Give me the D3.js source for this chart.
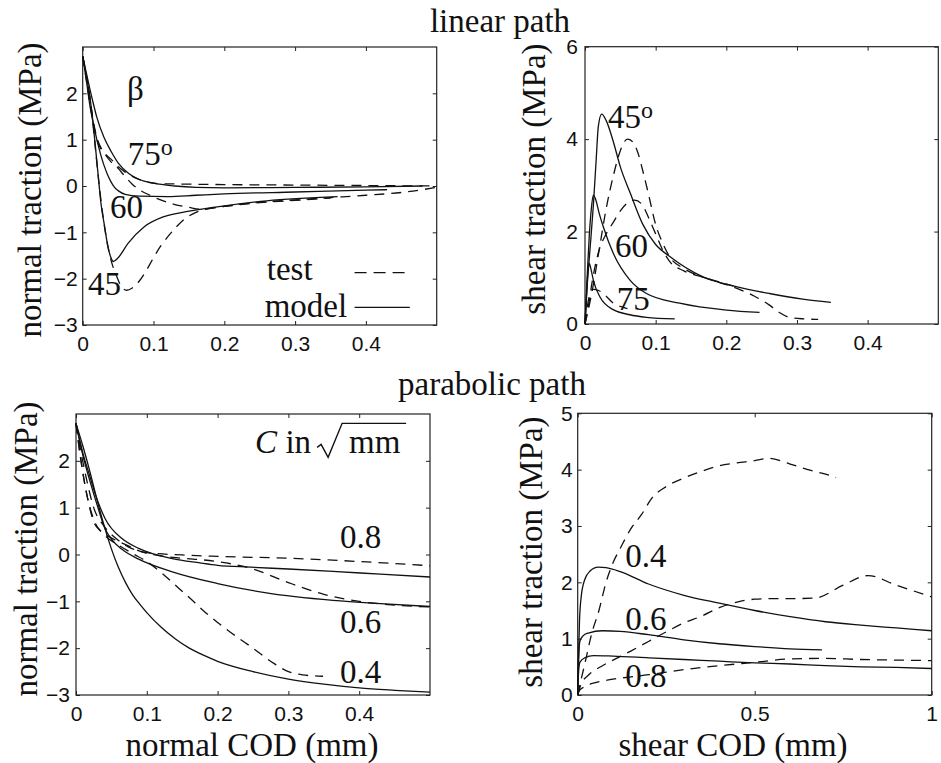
<!DOCTYPE html>
<html>
<head>
<meta charset="utf-8">
<script src="https://cdn.jsdelivr.net/npm/d3@7"></script>
<style>
  body { margin: 0; background: #fff; }
  svg text { fill: #111; }
  .serif { font-family: "Liberation Serif", "Times New Roman", serif; font-size: 33px; }
  .tick text { font-family: "Liberation Sans", Arial, sans-serif; font-size: 21px; fill: #111; }
  .tick line { stroke: #222; }
</style>
</head>
<body>
<svg id="chart" width="941" height="763"></svg>
<script>

// ---- linear path, normal traction vs normal COD (beta = 75, 60, 45) ----
var linN75Model = [[0,2.8],[0.005,2.45],[0.01,2.1],[0.015,1.78],[0.02,1.48],[0.03,1.05],[0.04,0.75],[0.05,0.5],[0.065,0.27],[0.08,0.14],[0.1,0.06],[0.13,0.0],[0.16,-0.03],[0.2,-0.04],[0.3,-0.03],[0.4,-0.02],[0.48,0.0]];
var linN75Test  = [[0,2.8],[0.005,2.3],[0.01,1.8],[0.015,1.35],[0.02,1.0],[0.025,0.82],[0.03,0.72],[0.04,0.58],[0.05,0.42],[0.06,0.3],[0.075,0.17],[0.09,0.09],[0.11,0.05],[0.15,0.04],[0.2,0.03],[0.3,0.02],[0.4,0.01],[0.5,0.0]];
var linN60Model = [[0,2.8],[0.005,2.3],[0.01,1.75],[0.015,1.35],[0.02,1.0],[0.025,0.7],[0.03,0.45],[0.035,0.25],[0.04,0.09],[0.045,-0.03],[0.05,-0.1],[0.06,-0.18],[0.08,-0.22],[0.12,-0.23],[0.16,-0.2],[0.2,-0.17],[0.3,-0.13],[0.4,-0.09],[0.43,-0.08]];
var linN60Test  = [[0,2.8],[0.005,2.4],[0.01,1.9],[0.015,1.4],[0.02,1.05],[0.025,0.85],[0.03,0.72],[0.04,0.52],[0.05,0.38],[0.06,0.2],[0.07,0.04],[0.08,-0.08],[0.095,-0.2],[0.11,-0.3],[0.13,-0.4],[0.15,-0.46],[0.165,-0.5],[0.2,-0.44],[0.25,-0.36],[0.3,-0.31],[0.35,-0.26]];
var linN45Model = [[0,2.8],[0.006,2.3],[0.012,1.71],[0.017,1.0],[0.0216,0.27],[0.026,-0.4],[0.031,-0.88],[0.0356,-1.31],[0.04,-1.55],[0.043,-1.63],[0.05,-1.55],[0.064,-1.24],[0.087,-0.88],[0.115,-0.66],[0.148,-0.55],[0.19,-0.45],[0.26,-0.32],[0.36,-0.23]];
var linN45Test  = [[0,2.8],[0.006,2.3],[0.012,1.7],[0.017,0.95],[0.022,0.2],[0.031,-0.9],[0.04,-1.6],[0.048,-1.95],[0.055,-2.18],[0.062,-2.25],[0.07,-2.2],[0.08,-2.05],[0.09,-1.82],[0.1,-1.55],[0.11,-1.3],[0.12,-1.1],[0.13,-0.92],[0.145,-0.7],[0.16,-0.57],[0.175,-0.5],[0.2,-0.44],[0.25,-0.35],[0.3,-0.3],[0.35,-0.25],[0.4,-0.2],[0.45,-0.14],[0.5,-0.03]];

// ---- linear path, shear traction vs shear COD ----
var linS45Model = [[0,0],[0.003,0.8],[0.007,1.6],[0.0117,2.54],[0.016,3.6],[0.0188,4.27],[0.0236,4.54],[0.03,4.4],[0.04,3.95],[0.05,3.4],[0.0636,2.85],[0.082,2.15],[0.1,1.72],[0.12,1.46],[0.167,1.02],[0.214,0.81],[0.261,0.66],[0.308,0.54],[0.348,0.47]];
var linS45Test  = [[0,0],[0.01,0.7],[0.02,1.6],[0.03,2.5],[0.04,3.2],[0.05,3.75],[0.06,4.0],[0.067,3.95],[0.075,3.7],[0.082,3.3],[0.09,2.8],[0.1,2.15],[0.11,1.75],[0.12,1.45],[0.14,1.2],[0.16,1.05],[0.18,0.95],[0.2,0.85],[0.22,0.74],[0.24,0.6],[0.26,0.42],[0.275,0.25],[0.29,0.14],[0.31,0.11],[0.33,0.1]];
var linS60Model = [[0,0],[0.003,1.0],[0.006,1.9],[0.009,2.5],[0.0118,2.79],[0.015,2.7],[0.02,2.4],[0.026,2.1],[0.04,1.53],[0.0636,0.95],[0.087,0.66],[0.134,0.45],[0.2,0.3],[0.247,0.25]];
var linS60Test  = [[0,0],[0.005,0.4],[0.01,0.9],[0.015,1.3],[0.02,1.6],[0.03,1.95],[0.04,2.2],[0.05,2.45],[0.06,2.62],[0.07,2.68],[0.08,2.6],[0.09,2.3],[0.1,1.95],[0.11,1.6],[0.12,1.35],[0.14,1.15],[0.17,1.0],[0.21,0.82]];
var linS75Model = [[0,0],[0.002,0.6],[0.004,1.1],[0.006,1.31],[0.009,1.15],[0.0118,0.95],[0.021,0.59],[0.04,0.31],[0.0636,0.2],[0.087,0.145],[0.127,0.11]];
var linS75Test  = [[0,0],[0.003,0.35],[0.007,0.65],[0.012,0.75],[0.02,0.72],[0.03,0.6],[0.04,0.45],[0.05,0.38],[0.06,0.33]];

// ---- parabolic path, normal traction (C = 0.8, 0.6, 0.4) ----
var parN08Model = [[0,2.8],[0.005,2.45],[0.01,2.15],[0.02,1.65],[0.027,1.3],[0.041,0.77],[0.065,0.34],[0.0885,0.13],[0.136,-0.09],[0.175,-0.18],[0.2,-0.23],[0.246,-0.27],[0.3,-0.31],[0.363,-0.36],[0.43,-0.42],[0.5,-0.48]];
var parN08Test  = [[0,2.8],[0.0056,2.3],[0.015,1.6],[0.025,1.0],[0.04,0.6],[0.06,0.3],[0.08,0.12],[0.1,0.04],[0.15,-0.01],[0.2,-0.04],[0.3,-0.08],[0.4,-0.15],[0.5,-0.24]];
var parN06Model = [[0,2.8],[0.01,2.1],[0.02,1.55],[0.03,1.05],[0.041,0.55],[0.05,0.33],[0.065,0.11],[0.0885,-0.1],[0.136,-0.37],[0.2,-0.62],[0.269,-0.82],[0.363,-0.98],[0.43,-1.05],[0.5,-1.11]];
var parN06Test  = [[0,2.8],[0.0056,2.16],[0.015,1.3],[0.0245,0.72],[0.035,0.5],[0.048,0.37],[0.0716,0.2],[0.09,0.07],[0.12,-0.03],[0.15,-0.08],[0.2,-0.15],[0.25,-0.31],[0.3,-0.6],[0.35,-0.85],[0.4,-1.0],[0.45,-1.08],[0.5,-1.12]];
var parN04Model = [[0,2.8],[0.01,2.3],[0.02,1.75],[0.03,1.15],[0.04,0.6],[0.05,0.12],[0.06,-0.28],[0.07,-0.6],[0.08,-0.86],[0.09,-1.06],[0.1,-1.24],[0.12,-1.55],[0.14,-1.8],[0.16,-2.0],[0.18,-2.15],[0.2,-2.28],[0.25,-2.5],[0.3,-2.66],[0.35,-2.77],[0.4,-2.85],[0.45,-2.9],[0.5,-2.94]];
var parN04Test  = [[0,2.8],[0.006,2.1],[0.015,1.3],[0.025,0.75],[0.04,0.42],[0.06,0.2],[0.08,0.02],[0.1,-0.15],[0.12,-0.38],[0.14,-0.65],[0.16,-0.92],[0.18,-1.2],[0.2,-1.45],[0.22,-1.68],[0.25,-2.0],[0.28,-2.33],[0.3,-2.5],[0.32,-2.57],[0.349,-2.6]];

// ---- parabolic path, shear traction ----
var parS04Model = [[0,0],[0.002,0.6],[0.005,1.3],[0.01,1.75],[0.02,2.05],[0.035,2.2],[0.058,2.27],[0.08,2.26],[0.12,2.19],[0.2,1.97],[0.3,1.77],[0.4,1.63],[0.5,1.5],[0.6,1.39],[0.7,1.3],[0.8,1.24],[0.9,1.19],[1.0,1.14]];
var parS04Test  = [[0,0],[0.004,0.12],[0.02,0.55],[0.04,1.1],[0.06,1.5],[0.08,2.0],[0.1,2.35],[0.12,2.6],[0.15,2.95],[0.18,3.2],[0.21,3.5],[0.25,3.7],[0.3,3.85],[0.35,3.97],[0.4,4.07],[0.45,4.12],[0.5,4.16],[0.54,4.2],[0.6,4.1],[0.65,4.0],[0.7,3.92],[0.73,3.86]];
var parS06Model = [[0,0],[0.002,0.5],[0.006,0.95],[0.015,1.05],[0.03,1.1],[0.07,1.14],[0.12,1.13],[0.2,1.07],[0.3,0.98],[0.4,0.91],[0.5,0.86],[0.6,0.82],[0.69,0.8]];
var parS06Test  = [[0,0],[0.01,0.2],[0.03,0.35],[0.07,0.52],[0.1,0.62],[0.15,0.78],[0.2,0.95],[0.25,1.12],[0.3,1.28],[0.35,1.4],[0.4,1.55],[0.45,1.65],[0.5,1.7],[0.55,1.71],[0.6,1.71],[0.67,1.72],[0.75,1.95],[0.82,2.12],[0.9,1.95],[1.0,1.74]];
var parS08Model = [[0,0],[0.002,0.35],[0.006,0.58],[0.02,0.66],[0.045,0.7],[0.1,0.69],[0.2,0.66],[0.3,0.63],[0.4,0.6],[0.5,0.57],[0.6,0.55],[0.7,0.52],[0.8,0.5],[0.9,0.49],[1.0,0.47]];
var parS08Test  = [[0,0],[0.005,0.08],[0.02,0.15],[0.05,0.22],[0.1,0.28],[0.2,0.36],[0.3,0.45],[0.4,0.52],[0.5,0.58],[0.6,0.64],[0.7,0.65],[0.8,0.63],[0.9,0.62],[1.0,0.61]];

// ---- tick labels ----
var codTicks = [0, 0.1, 0.2, 0.3, 0.4];
var parShearCodTicks = [0, 0.5, 1];
var normalTicks = [-3, -2, -1, 0, 1, 2];
var linShearTicks = [0, 2, 4, 6];
var parShearTicks = [0, 1, 2, 3, 4, 5];

var svg = d3.select("#chart");
svg.append("rect").attr("width", 941).attr("height", 763).attr("fill", "#fff");

var fmt = d3.format("");

function panel(box, xDom, yDom, xTicks, yTicks, yPad) {
  var x = d3.scaleLinear().domain(xDom).range([box.left, box.right]);
  var y = d3.scaleLinear().domain(yDom).range([box.bottom, box.top]);
  var g = svg.append("g");

  g.append("g").attr("transform", "translate(0," + box.bottom + ")")
    .call(d3.axisBottom(x).tickValues(xTicks).tickSizeInner(-4).tickSizeOuter(0).tickPadding(11).tickFormat(fmt));
  g.append("g").attr("transform", "translate(0," + box.top + ")")
    .call(d3.axisTop(x).tickValues(xTicks).tickSizeInner(-4).tickSizeOuter(0).tickFormat(""));
  g.append("g").attr("transform", "translate(" + box.left + ",0)")
    .call(d3.axisLeft(y).tickValues(yTicks).tickSizeInner(-4).tickSizeOuter(0).tickPadding(yPad).tickFormat(fmt));
  g.append("g").attr("transform", "translate(" + box.right + ",0)")
    .call(d3.axisRight(y).tickValues(yTicks).tickSizeInner(-4).tickSizeOuter(0).tickFormat(""));
  g.selectAll(".domain").remove();

  g.append("rect")
    .attr("x", box.left).attr("y", box.top)
    .attr("width", box.right - box.left).attr("height", box.bottom - box.top)
    .attr("fill", "none").attr("stroke", "#222").attr("stroke-width", 1.2);

  return {g: g, x: x, y: y};
}

function curve(p, data, dashed) {
  var line = d3.line()
    .x(function(d) { return p.x(d[0]); })
    .y(function(d) { return p.y(d[1]); })
    .curve(d3.curveMonotoneX);
  p.g.append("path").datum(data)
    .attr("fill", "none")
    .attr("stroke", "#111")
    .attr("stroke-width", 1.3)
    .attr("stroke-dasharray", dashed ? "10,7" : null)
    .attr("d", line);
}

function label(p, x, y, txt, sup) {
  var t = p.g.append("text").attr("class", "serif")
    .attr("x", p.x(x)).attr("y", p.y(y)).text(txt);
  if (sup) {
    t.append("tspan").attr("font-size", "24px").attr("dy", -10).text(sup);
  }
  return t;
}

function ylabel(cx, cy, txt) {
  svg.append("text").attr("class", "serif")
    .attr("transform", "translate(" + cx + "," + cy + ") rotate(-90)")
    .attr("text-anchor", "middle").text(txt);
}

function xlabel(cx, cy, txt) {
  svg.append("text").attr("class", "serif")
    .attr("x", cx).attr("y", cy).attr("text-anchor", "middle").text(txt);
}

// titles
xlabel(500, 32, "linear path");
xlabel(492, 395, "parabolic path");

// panel 1: linear path, normal
var p1 = panel({left: 82.7, top: 47, right: 436.7, bottom: 325}, [0, 0.5], [-3, 3], codTicks, normalTicks, 5);
curve(p1, linN75Test, true);
curve(p1, linN60Test, true);
curve(p1, linN45Test, true);
curve(p1, linN75Model, false);
curve(p1, linN60Model, false);
curve(p1, linN45Model, false);
label(p1, 0.0624, 1.86, "β");
label(p1, 0.0638, 0.45, "75", "o");
label(p1, 0.0385, -0.69, "60");
label(p1, 0.0075, -2.35, "45");
// legend
label(p1, 0.26, -2.03, "test").attr("font-size", "30px");
label(p1, 0.257, -2.82, "model").attr("font-size", "30px");
p1.g.append("line")
  .attr("x1", p1.x(0.384)).attr("x2", p1.x(0.462)).attr("y1", p1.y(-1.87)).attr("y2", p1.y(-1.87))
  .attr("stroke", "#111").attr("stroke-width", 1.3).attr("stroke-dasharray", "12,7");
p1.g.append("line")
  .attr("x1", p1.x(0.384)).attr("x2", p1.x(0.462)).attr("y1", p1.y(-2.62)).attr("y2", p1.y(-2.62))
  .attr("stroke", "#111").attr("stroke-width", 1.3);
ylabel(41, 190, "normal traction (MPa)");

// panel 2: linear path, shear
var p2 = panel({left: 585, top: 46.7, right: 938.3, bottom: 324}, [0, 0.5], [0, 6], codTicks, linShearTicks, 7);
curve(p2, linS45Test, true);
curve(p2, linS60Test, true);
curve(p2, linS75Test, true);
curve(p2, linS45Model, false);
curve(p2, linS60Model, false);
curve(p2, linS75Model, false);
label(p2, 0.0325, 4.24, "45", "o");
label(p2, 0.0424, 1.45, "60");
label(p2, 0.045, 0.30, "75");
ylabel(545, 179, "shear traction (MPa)");

// panel 3: parabolic path, normal
var p3 = panel({left: 76, top: 414, right: 430, bottom: 695}, [0, 0.5], [-3, 3], codTicks, normalTicks, 6);
curve(p3, parN08Test, true);
curve(p3, parN06Test, true);
curve(p3, parN04Test, true);
curve(p3, parN08Model, false);
curve(p3, parN06Model, false);
curve(p3, parN04Model, false);
var cx = p3.x(0.253), cy = p3.y(2.16);
var cLab = p3.g.append("text").attr("class", "serif").attr("x", cx).attr("y", cy);
cLab.append("tspan").attr("font-style", "italic").text("C");
cLab.append("tspan").text(" in");
p3.g.append("path")
  .attr("transform", "translate(" + cx + "," + cy + ")")
  .attr("d", "M62,-6 L66,-9 L73,4 L87,-30 L151,-30")
  .attr("fill", "none").attr("stroke", "#111").attr("stroke-width", 1.4);
p3.g.append("text").attr("class", "serif").attr("x", cx + 94).attr("y", cy).text("mm");
label(p3, 0.373, 0.13, "0.8");
label(p3, 0.373, -1.67, "0.6");
label(p3, 0.373, -2.74, "0.4");
ylabel(37, 549, "normal traction (MPa)");
xlabel(252, 756, "normal COD (mm)");

// panel 4: parabolic path, shear
var p4 = panel({left: 577.7, top: 413.3, right: 931.7, bottom: 695}, [0, 1], [0, 5], parShearCodTicks, parShearTicks, 5);
curve(p4, parS04Test, true);
curve(p4, parS06Test, true);
curve(p4, parS08Test, true);
curve(p4, parS04Model, false);
curve(p4, parS06Model, false);
curve(p4, parS08Model, false);
label(p4, 0.134, 2.28, "0.4");
label(p4, 0.134, 1.15, "0.6");
label(p4, 0.134, 0.15, "0.8");
ylabel(542, 552, "shear traction (MPa)");
xlabel(733, 756, "shear COD (mm)");

</script>
</body>
</html>
